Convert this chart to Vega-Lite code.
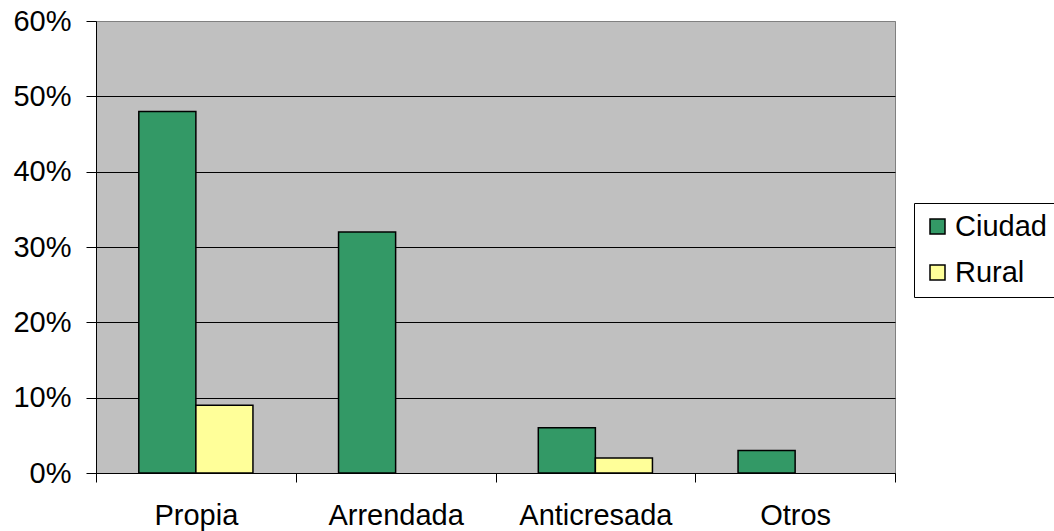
{
  "$schema": "https://vega.github.io/schema/vega-lite/v6.json",
  "width": 799,
  "height": 452,
  "autosize": "none",
  "padding": {"left": 96, "top": 21, "right": 159, "bottom": 58},
  "background": "white",
  "config": {
    "font": "Liberation Sans",
    "view": {"fill": "#C0C0C0", "stroke": "#808080", "strokeWidth": 1}
  },
  "data": {
    "values": [
      {"tipo": "Propia", "zona": "Ciudad", "valor": 0.48},
      {"tipo": "Propia", "zona": "Rural", "valor": 0.09},
      {"tipo": "Arrendada", "zona": "Ciudad", "valor": 0.32},
      {"tipo": "Arrendada", "zona": "Rural", "valor": 0.0},
      {"tipo": "Anticresada", "zona": "Ciudad", "valor": 0.06},
      {"tipo": "Anticresada", "zona": "Rural", "valor": 0.02},
      {"tipo": "Otros", "zona": "Ciudad", "valor": 0.03},
      {"tipo": "Otros", "zona": "Rural", "valor": 0.0}
    ]
  },
  "mark": {"type": "bar", "stroke": "black"},
  "encoding": {
    "x": {
      "field": "tipo",
      "type": "nominal",
      "sort": ["Propia", "Arrendada", "Anticresada", "Otros"],
      "scale": {"paddingInner": 0, "paddingOuter": 0},
      "axis": {
        "title": null,
        "labelAngle": 0,
        "labelFontSize": 29,
        "labelColor": "black",
        "labelPadding": 19,
        "tickBand": "extent",
        "tickSize": 9,
        "tickColor": "black",
        "domainColor": "black",
        "grid": false
      }
    },
    "xOffset": {
      "field": "zona",
      "type": "nominal",
      "scale": {"paddingInner": 0, "paddingOuter": 0.75}
    },
    "y": {
      "field": "valor",
      "type": "quantitative",
      "scale": {"domain": [0, 0.6], "nice": false},
      "axis": {
        "title": null,
        "format": ".0%",
        "values": [0, 0.1, 0.2, 0.3, 0.4, 0.5, 0.6],
        "labelFontSize": 29,
        "labelColor": "black",
        "labelPadding": 15,
        "tickSize": 10,
        "tickColor": "black",
        "domainColor": "black",
        "grid": true,
        "gridColor": {"condition": {"test": "datum.value >= 0.6", "value": "#808080"}, "value": "black"},
        "gridWidth": 1,
        "gridOpacity": 1
      }
    },
    "strokeWidth": {
      "condition": {"test": "datum.valor == 0", "value": 0},
      "value": 1.5
    },
    "color": {
      "field": "zona",
      "type": "nominal",
      "scale": {"domain": ["Ciudad", "Rural"], "range": ["#339966", "#FFFF99"]},
      "legend": {
        "title": null,
        "orient": "none",
        "legendX": 818,
        "legendY": 182,
        "symbolType": "square",
        "symbolSize": 225,
        "symbolStrokeColor": "black",
        "symbolStrokeWidth": 1.5,
        "labelFontSize": 29,
        "labelColor": "black",
        "labelOffset": 3,
        "rowPadding": 16,
        "padding": 9,
        "strokeColor": "black",
        "fillColor": "white"
      }
    }
  }
}
